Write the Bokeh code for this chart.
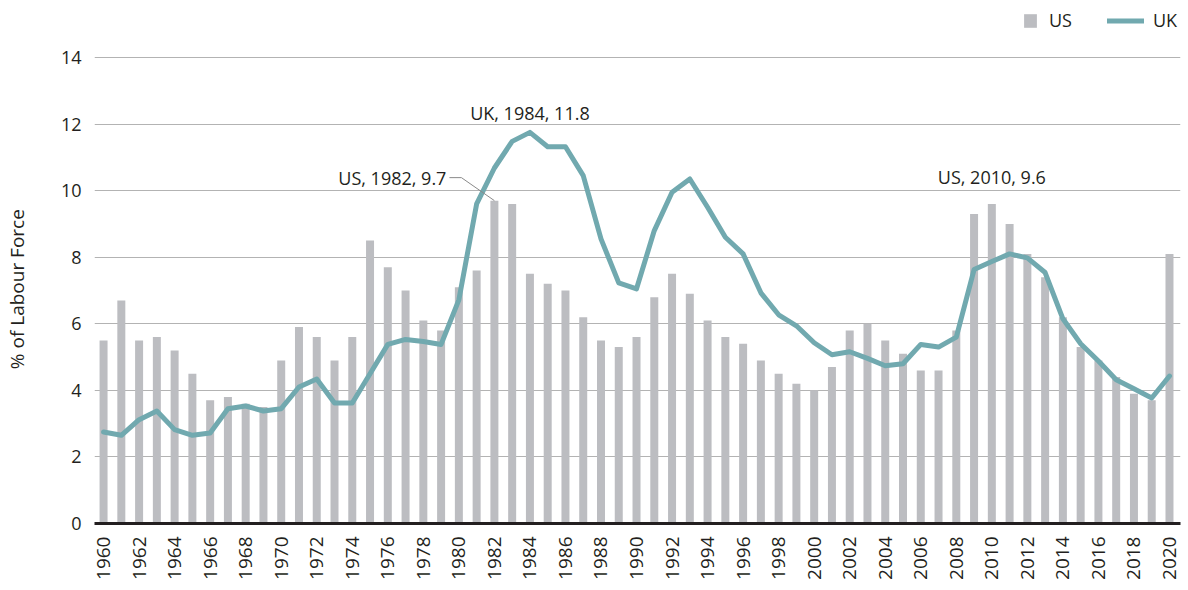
import math
from bokeh.plotting import figure
from bokeh.models import (Range1d, FixedTicker, Legend, LegendItem, Label,
                          ColumnDataSource)
from bokeh.embed import file_html
from bokeh.resources import INLINE

years = list(range(1960, 2021))
us = [5.5, 6.7, 5.5, 5.6, 5.2, 4.5, 3.7, 3.8, 3.6, 3.5,
      4.9, 5.9, 5.6, 4.9, 5.6, 8.5, 7.7, 7.0, 6.1, 5.8,
      7.1, 7.6, 9.7, 9.6, 7.5, 7.2, 7.0, 6.2, 5.5, 5.3,
      5.6, 6.8, 7.5, 6.9, 6.1, 5.6, 5.4, 4.9, 4.5, 4.2,
      4.0, 4.7, 5.8, 6.0, 5.5, 5.1, 4.6, 4.6, 5.8, 9.3,
      9.6, 9.0, 8.1, 7.4, 6.2, 5.3, 4.9, 4.4, 3.9, 3.7,
      8.1]
uk = [2.75, 2.65, 3.12, 3.38, 2.82, 2.65, 2.72, 3.45, 3.53, 3.38,
      3.45, 4.1, 4.34, 3.62, 3.62, 4.5, 5.38, 5.53, 5.47, 5.38,
      6.72, 9.6, 10.68, 11.48, 11.75, 11.32, 11.32, 10.45, 8.55, 7.23,
      7.05, 8.8, 9.95, 10.35, 9.5, 8.6, 8.1, 6.93, 6.27, 5.94,
      5.43, 5.07, 5.16, 4.96, 4.74, 4.8, 5.38, 5.3, 5.6, 7.63,
      7.87, 8.1, 7.98, 7.54, 6.15, 5.4, 4.88, 4.32, 4.05, 3.77,
      4.43]
y_ticks = [0, 2, 4, 6, 8, 10, 12, 14]
x_ticks = list(range(1960, 2021, 2))

notes = [
    # text, year, value, x_offset(px), y_offset(px), align
    ("UK, 1984, 11.8", 1984, 11.8, 0, 18, "center"),
    ("US, 1982, 9.7", 1982, 9.7, -48, 23, "right"),
    ("US, 2010, 9.6", 2010, 9.6, 0, 27, "center"),
]

FONT = "Open Sans"
TXT = "#231f20"
BAR = "#bcbdc1"
LINE = "#71a9af"

W, H = 1188, 590
BL, BR = 93, 8
FRAME_BOTTOM = 523
BB = H - FRAME_BOTTOM
px_per_unit = 33.286
y_top = FRAME_BOTTOM / px_per_unit
x0r, x1r = 1959.49, 2020.62

p = figure(width=W, height=H, output_backend="svg", toolbar_location=None,
           x_range=Range1d(x0r, x1r), y_range=Range1d(0, y_top),
           min_border_left=BL, min_border_right=BR, min_border_top=0,
           min_border_bottom=BB)
p.outline_line_color = None
p.background_fill_color = "white"

src = ColumnDataSource(dict(year=years, us=us, uk=uk))
bars = p.vbar(x="year", top="us", width=0.45, source=src,
              fill_color=BAR, line_color=None)
ln = p.line(x="year", y="uk", source=src, line_color=LINE, line_width=5,
            line_join="round", line_cap="round")

# axes
p.xgrid.grid_line_color = None
p.ygrid.grid_line_color = "#b3b3b3"
p.ygrid.grid_line_width = 1
p.ygrid.ticker = FixedTicker(ticks=y_ticks)

p.yaxis.ticker = FixedTicker(ticks=y_ticks)
p.yaxis.axis_line_color = None
p.yaxis.major_tick_line_color = None
p.yaxis.minor_tick_line_color = None
p.yaxis.major_tick_out = 0
p.yaxis.major_tick_in = 0
p.yaxis.major_label_standoff = 13
p.yaxis.major_label_text_font = FONT
p.yaxis.major_label_text_font_size = "18px"
p.yaxis.major_label_text_color = TXT
# trailing no-break spaces shift the visible title down to the plotted
# data region's centre (the frame also holds the legend band on top)
p.yaxis.axis_label = "% of Labour Force" + "\u00a0" * 11
p.yaxis.axis_label_text_font = FONT
p.yaxis.axis_label_text_font_size = "19px"
p.yaxis.axis_label_text_font_style = "normal"
p.yaxis.axis_label_text_color = TXT
p.yaxis.axis_label_standoff = 28

p.xaxis.ticker = FixedTicker(ticks=x_ticks)
p.xaxis.axis_line_color = "#231f20"
p.xaxis.axis_line_width = 3
p.xaxis.major_tick_line_color = None
p.xaxis.minor_tick_line_color = None
p.xaxis.major_tick_out = 0
p.xaxis.major_tick_in = 0
p.xaxis.major_label_orientation = math.pi / 2
p.xaxis.major_label_standoff = 13
p.xaxis.major_label_text_font = FONT
p.xaxis.major_label_text_font_size = "19px"
p.xaxis.major_label_text_color = TXT

# annotations
px_per_year = (W - BL - BR) / (x1r - x0r)
for text, yr, val, xo, yo, align in notes:
    lab = Label(x=yr, y=val, x_offset=xo, y_offset=yo, text=text,
                text_font=FONT, text_font_size="18px", text_color=TXT,
                text_align=align, text_baseline="middle")
    p.add_layout(lab)
    if align == "right":
        xa = yr + (xo + 3) / px_per_year
        xb = yr + (xo + 15) / px_per_year
        yb = val + yo / px_per_unit
        p.line([xa, xb, yr], [yb, yb, val], line_color="#8a8a8a",
               line_width=1)

# legends
common = dict(orientation="horizontal", glyph_height=17, padding=0, margin=0,
              spacing=0, background_fill_alpha=0, border_line_color=None,
              label_text_font=FONT, label_text_font_size="18px",
              label_text_color=TXT, label_height=17)
leg_us = Legend(items=[LegendItem(label="US", renderers=[bars])],
                location=(928, FRAME_BOTTOM - 32), glyph_width=16,
                label_standoff=11, **common)
leg_uk = Legend(items=[LegendItem(label="UK", renderers=[ln])],
                location=(1013, FRAME_BOTTOM - 32), glyph_width=37,
                label_standoff=9, **common)
p.add_layout(leg_us)
p.add_layout(leg_uk)

open("out.html", "w").write(file_html(p, INLINE))
